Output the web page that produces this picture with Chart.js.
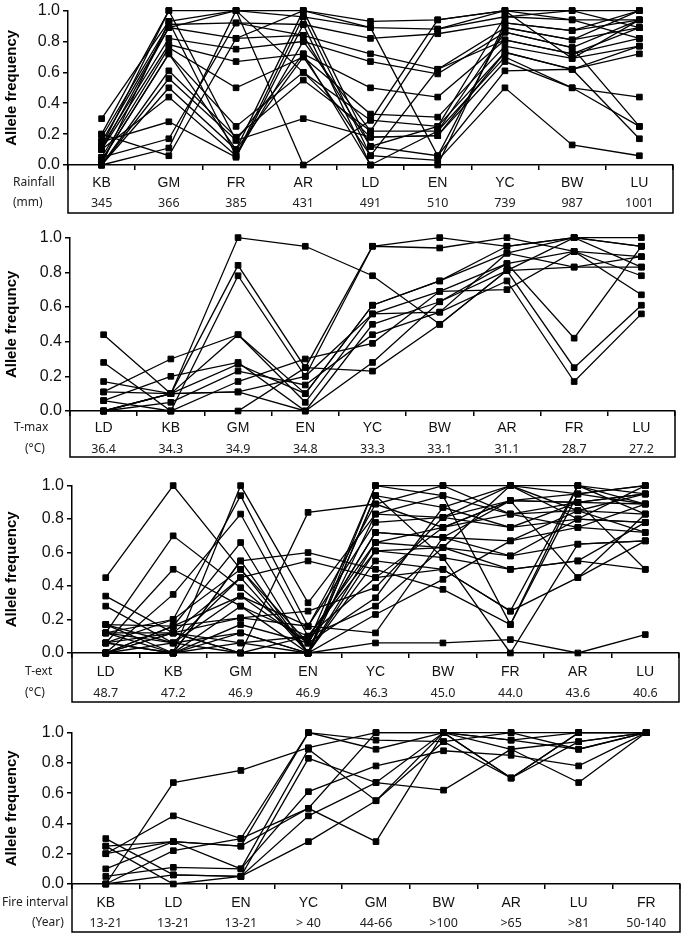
<!DOCTYPE html>
<html>
<head>
<meta charset="utf-8">
<script src="https://cdn.jsdelivr.net/npm/chart.js@4.4.0/dist/chart.umd.min.js"></script>
<style>
body{margin:0;background:#fff;width:685px;height:935px;position:relative;overflow:hidden}
canvas{position:absolute;left:0}
</style>
</head>
<body>
<canvas id="c1"></canvas>
<canvas id="c2"></canvas>
<canvas id="c3"></canvas>
<canvas id="c4"></canvas>
<script>
// ---- panel 1: rainfall ----
const rainSites = ['KB','GM','FR','AR','LD','EN','YC','BW','LU'];
const rainMm = ['345','366','385','431','491','510','739','987','1001'];
const rainFreq = [
  [0.30,0.93,1.00,1.00,0.93,0.94,1.00,1.00,1.00],
  [0.20,1.00,1.00,0.96,0.89,0.88,0.96,0.94,0.94],
  [0.18,0.91,0.92,0.91,0.82,0.85,0.92,0.87,1.00],
  [0.15,0.89,0.82,0.84,0.72,0.62,0.89,0.81,0.89],
  [0.12,0.82,0.75,0.80,0.67,0.59,0.86,0.76,0.94],
  [0.10,0.78,0.67,0.72,0.50,0.44,0.81,0.72,0.82],
  [0.05,0.76,0.50,0.70,0.33,0.31,0.77,0.69,0.77],
  [0.03,0.72,0.25,0.60,0.29,0.25,0.73,0.62,0.72],
  [0.00,0.61,0.18,0.55,0.22,0.22,0.70,0.50,0.44],
  [0.00,0.56,0.16,0.30,0.18,0.19,0.67,0.50,0.25],
  [0.00,0.50,0.10,1.00,0.12,0.06,0.61,0.62,0.17],
  [0.10,0.44,0.06,0.96,0.06,0.03,0.50,0.13,0.06],
  [0.15,0.28,0.05,0.91,0.00,0.00,0.92,0.87,0.94],
  [0.05,0.17,0.92,0.84,0.12,0.25,0.96,1.00,0.89],
  [0.00,0.11,1.00,0.00,0.29,0.94,1.00,0.94,0.82],
  [0.20,0.06,0.82,1.00,0.89,0.06,0.89,0.81,1.00],
  [0.12,1.00,0.16,0.72,0.00,0.22,0.86,0.76,0.25],
  [0.00,0.93,0.06,0.80,0.22,0.88,1.00,0.69,0.94],
  [0.03,0.72,0.10,0.70,0.06,0.62,0.81,0.72,0.89],
  [0.10,0.89,1.00,0.60,0.18,0.19,0.73,0.62,0.77]
];

// ---- panel 2: T-max ----
const tmaxSites = ['LD','KB','GM','EN','YC','BW','AR','FR','LU'];
const tmaxC = ['36.4','34.3','34.9','34.8','33.3','33.1','31.1','28.7','27.2'];
const tmaxFreq = [
  [0.00,0.10,1.00,0.95,0.78,0.50,0.81,1.00,0.95],
  [0.44,0.10,0.84,0.25,0.95,0.94,1.00,0.92,0.89],
  [0.28,0.00,0.78,0.20,0.95,1.00,0.95,1.00,1.00],
  [0.17,0.10,0.44,0.10,0.61,0.75,0.91,1.00,0.83],
  [0.11,0.30,0.44,0.05,0.56,0.69,0.85,0.42,0.95],
  [0.06,0.20,0.28,0.00,0.50,0.63,0.81,0.25,0.61],
  [0.00,0.05,0.23,0.15,0.44,0.57,0.75,0.17,0.56],
  [0.00,0.00,0.17,0.30,0.39,0.69,0.70,0.92,0.78],
  [0.11,0.10,0.11,0.00,0.28,0.63,0.85,0.92,0.67],
  [0.06,0.00,0.00,0.25,0.23,0.50,0.81,0.83,0.89],
  [0.00,0.10,0.27,0.10,0.61,0.75,0.95,1.00,0.95],
  [0.00,0.10,0.11,0.20,0.56,0.57,0.91,0.83,0.83]
];

// ---- panel 3: T-ext ----
const textSites = ['LD','KB','GM','EN','YC','BW','FR','AR','LU'];
const textC = ['48.7','47.2','46.9','46.9','46.3','45.0','44.0','43.6','40.6'];
const textFreq = [
  [0.45,1.00,0.50,0.00,0.94,0.87,1.00,0.95,1.00],
  [0.34,0.12,0.00,0.84,0.89,0.75,0.91,0.90,0.95],
  [0.28,0.06,0.12,0.00,1.00,1.00,1.00,1.00,0.89],
  [0.17,0.00,1.00,0.30,0.83,0.94,0.83,0.85,0.83],
  [0.12,0.20,0.94,0.16,0.78,0.81,0.75,0.80,0.78],
  [0.12,0.70,0.39,0.06,0.72,0.69,0.67,0.75,0.72],
  [0.06,0.50,0.28,0.00,0.66,0.63,0.58,0.65,0.67],
  [0.00,0.35,0.83,0.10,0.61,0.57,0.50,0.55,0.50],
  [0.00,0.16,0.66,0.00,0.55,0.50,0.25,0.45,0.83],
  [0.12,0.00,0.55,0.60,0.50,0.38,0.17,1.00,0.95],
  [0.06,0.12,0.45,0.55,0.45,0.75,0.91,0.90,0.89],
  [0.17,0.06,0.34,0.16,0.12,0.69,0.91,0.95,0.89],
  [0.00,0.16,0.21,0.25,0.39,0.81,1.00,0.80,1.00],
  [0.06,0.00,0.17,0.06,0.33,0.87,0.75,0.90,0.95],
  [0.00,0.12,0.06,0.10,0.28,0.63,0.50,0.55,0.78],
  [0.12,0.06,0.00,0.00,0.23,0.44,0.67,0.85,0.72],
  [0.00,0.00,0.12,0.00,0.94,0.57,0.00,0.65,0.67],
  [0.06,0.20,0.50,0.06,1.00,0.94,0.17,0.95,1.00],
  [0.00,0.00,0.28,0.10,0.45,0.50,0.25,1.00,0.83],
  [0.12,0.12,0.21,0.16,0.89,1.00,0.83,0.75,0.89],
  [0.00,0.06,0.45,0.00,0.83,0.81,0.91,0.45,0.67],
  [0.17,0.16,0.34,0.06,0.72,0.69,0.58,0.80,0.78],
  [0.06,0.00,0.55,0.00,0.61,0.63,1.00,0.85,0.95],
  [0.00,0.12,0.00,0.10,0.66,0.75,0.83,0.90,0.50],
  [0.00,0.00,0.06,0.00,0.06,0.06,0.08,0.00,0.11]
];

// ---- panel 4: fire interval ----
const fireSites = ['KB','LD','EN','YC','GM','BW','AR','LU','FR'];
const fireYears = ['13-21','13-21','13-21','> 40','44-66','>100','>65','>81','50-140'];
const fireFreq = [
  [0.00,0.67,0.75,0.90,1.00,1.00,1.00,1.00,1.00],
  [0.20,0.45,0.30,1.00,0.95,0.94,0.70,0.94,1.00],
  [0.25,0.28,0.25,1.00,0.89,1.00,0.95,0.89,1.00],
  [0.30,0.06,0.05,0.83,0.67,1.00,0.89,0.67,1.00],
  [0.10,0.28,0.10,0.89,0.55,1.00,0.70,1.00,1.00],
  [0.05,0.11,0.10,0.61,0.78,0.88,0.85,0.78,1.00],
  [0.00,0.22,0.30,0.50,0.28,1.00,0.95,1.00,1.00],
  [0.00,0.06,0.05,0.45,0.67,0.62,0.89,0.94,1.00],
  [0.25,0.00,0.05,0.28,0.55,0.94,1.00,0.89,1.00],
  [0.20,0.28,0.25,0.50,1.00,1.00,0.70,1.00,1.00]
];

const yTicks = [0, 0.2, 0.4, 0.6, 0.8, 1.0];

// box under the x axis with the second row of labels
const boxPlugin = {
  id: 'box',
  afterDraw(chart, args, o) {
    const ctx = chart.ctx, a = chart.chartArea, xs = chart.scales.x;
    const bottom = a.bottom + o.boxH;
    ctx.save();
    ctx.strokeStyle = '#000';
    ctx.lineWidth = 1.5;
    ctx.beginPath();
    ctx.moveTo(a.left, a.bottom);
    ctx.lineTo(a.left, bottom);
    ctx.lineTo(a.right, bottom);
    ctx.lineTo(a.right, a.bottom);
    ctx.stroke();
    ctx.fillStyle = '#222';
    ctx.textBaseline = 'middle';
    ctx.textAlign = 'center';
    ctx.font = '12.5px "Noto Sans"';
    o.values.forEach((v, i) => ctx.fillText(v, xs.getPixelForValue(i), a.bottom + o.numY));
    ctx.textAlign = 'left';
    ctx.font = '12px "Noto Sans"';
    ctx.fillText(o.name, o.nameX, a.bottom + o.catY);
    ctx.fillText(o.unit, o.unitX, a.bottom + o.numY);
    ctx.restore();
  }
};

function makePanel(id, g, sites, values, series, title, name, unit, nameX, unitX) {
  const pad = 9;
  const cv = document.getElementById(id);
  cv.style.top = (g.top - pad) + 'px';
  cv.width = 685;
  cv.height = (g.boxBottom + 3) - (g.top - pad);
  const boxH = g.boxBottom - g.zero;
  new Chart(cv, {
    type: 'line',
    data: {
      labels: sites,
      datasets: series.map(s => ({
        data: s,
        borderColor: '#000',
        borderWidth: 1.3,
        pointStyle: 'rect',
        pointRadius: 4,
        pointBackgroundColor: '#000',
        pointBorderColor: '#000',
        pointBorderWidth: 1,
        tension: 0,
        clip: false
      }))
    },
    options: {
      responsive: false,
      animation: false,
      events: [],
      layout: { padding: { top: pad, bottom: 3, left: 0, right: 685 - g.right } },
      plugins: {
        legend: { display: false },
        tooltip: { enabled: false },
        box: { boxH: boxH, values: values, name: name, unit: unit, nameX: nameX, unitX: unitX, catY: g.catY, numY: g.numY }
      },
      scales: {
        x: {
          offset: true,
          grid: { offset: true, drawOnChartArea: false, tickLength: 5, color: '#000', lineWidth: 1.5 },
          border: { display: true, color: '#000', width: 1.5 },
          ticks: { color: '#111', padding: g.catY - 5 - 8.4, maxRotation: 0, autoSkip: false,
                   font: { family: 'Liberation Sans', size: 14 } },
          afterFit: s => { s.height = boxH; }
        },
        y: {
          min: 0, max: 1,
          afterBuildTicks: s => { s.ticks = yTicks.map(v => ({ value: v })); },
          grid: { drawOnChartArea: false, tickLength: 5, color: '#000', lineWidth: 1.5 },
          border: { display: true, color: '#000', width: 1.5 },
          ticks: { color: '#111', padding: 3, callback: v => v.toFixed(1),
                   font: { family: 'Liberation Sans', size: 16 } },
          title: { display: true, text: title, color: '#000', padding: { top: 3, bottom: 0 },
                   font: { family: 'Liberation Sans', size: 15, weight: 'bold' } },
          afterFit: s => { s.width = g.left; }
        }
      }
    },
    plugins: [boxPlugin]
  });
}

makePanel('c1', { top: 7, zero: 165, boxBottom: 213, left: 68, right: 673, catY: 18, numY: 38 },
  rainSites, rainMm, rainFreq, 'Allele frequency', 'Rainfall', '(mm)', 13, 13);
makePanel('c2', { top: 234, zero: 411, boxBottom: 457, left: 70, right: 675, catY: 17, numY: 38 },
  tmaxSites, tmaxC, tmaxFreq, 'Allele frequncy', 'T-max', '(°C)', 14, 25);
makePanel('c3', { top: 482, zero: 653, boxBottom: 702, left: 72, right: 679, catY: 19, numY: 40 },
  textSites, textC, textFreq, 'Allele frequency', 'T-ext', '(°C)', 25, 25);
makePanel('c4', { top: 729, zero: 884, boxBottom: 932, left: 72, right: 682, catY: 19, numY: 39 },
  fireSites, fireYears, fireFreq, 'Allele frequency', 'Fire interval', '(Year)', 2, 32);
</script>
</body>
</html>
